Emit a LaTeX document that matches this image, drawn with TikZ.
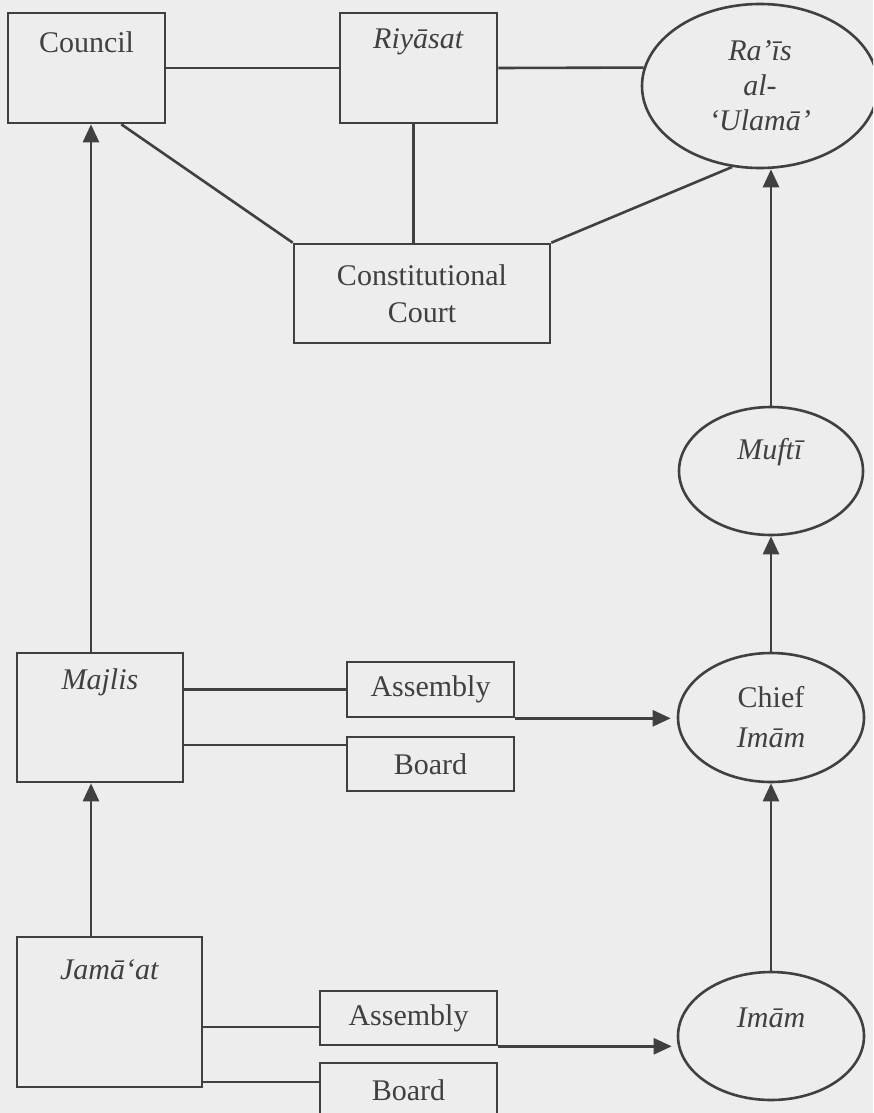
\documentclass[tikz,border=0pt]{standalone}
\usepackage{fontspec}
\setmainfont{Liberation Serif}
\usetikzlibrary{arrows.meta,shapes.geometric,calc}
\definecolor{ink}{HTML}{404040}
\definecolor{paper}{HTML}{EDEDED}
\begin{document}
\begin{tikzpicture}[x=1pt,y=-1pt,
  txt/.style={font=\fontsize{30}{36}\selectfont, text=ink},
  box/.style={draw=ink, line width=2.6pt, rectangle, inner sep=0pt, txt},
  oval/.style={draw=ink, line width=2.6pt, ellipse, inner sep=0pt, txt},
  conn/.style={draw=ink, line width=2.6pt},
  arr/.style={conn, -{Triangle[length=18pt,width=16pt]}},
]
\fill[paper] (0,0) rectangle (873,1113);
\useasboundingbox (0,0) rectangle (873,1113);
\clip (0,0) rectangle (873,1113);

% boxes
\node[box, minimum width=157pt, minimum height=110pt,
  label={[txt, yshift=26pt]center:Council}] (council) at (86.5,68) {};
\node[box, minimum width=157pt, minimum height=110pt,
  label={[txt, yshift=26pt]center:\textit{Riyāsat}}] (riyasat) at (418.5,68) {};
\node[box, minimum width=256pt, minimum height=99pt, align=center,
  font=\fontsize{30}{37}\selectfont] (cc) at (422,293.5) {Constitutional\\Court};
\node[box, minimum width=166pt, minimum height=129pt,
  label={[txt, yshift=35pt]center:\textit{Majlis}}] (majlis) at (100,717.5) {};
\node[box, minimum width=167pt, minimum height=55pt] (asm1) at (430.5,689.5) {Assembly};
\node[box, minimum width=167pt, minimum height=54pt] (brd1) at (430.5,764) {Board};
\node[box, minimum width=185pt, minimum height=150pt,
  label={[txt, yshift=42pt]center:\textit{Jamā‘at}}] (jamaat) at (109.5,1012) {};
\node[box, minimum width=177pt, minimum height=54pt] (asm2) at (408.5,1018) {Assembly};
\node[box, minimum width=177pt, minimum height=54pt] (brd2) at (408.5,1090) {Board};

% ellipses
\node[oval, minimum width=236pt, minimum height=164pt, align=center,
  font=\fontsize{30}{35}\selectfont\itshape] (rais) at (760,86) {Ra’īs\\al-\\‘Ulamā’};
\node[oval, minimum width=184pt, minimum height=128pt,
  label={[txt, yshift=19pt]center:\textit{Muftī}}] (mufti) at (771,471) {};
\node[oval, minimum width=186pt, minimum height=129pt, align=center,
  font=\fontsize{30}{40}\selectfont] (chief) at (771,717.5) {Chief\\\textit{Imām}};
\node[oval, minimum width=186pt, minimum height=128pt,
  label={[txt, yshift=18pt]center:\textit{Imām}}] (imam) at (771,1036) {};

% helper coordinates
\coordinate (cbl) at ([xshift=-45pt]council.south east);
\coordinate (mjx) at ([xshift=-9pt]majlis.north);
\coordinate (jmx) at ([xshift=-18.5pt]jamaat.north);
\coordinate (b1in) at ([yshift=19pt]brd1.west);
\coordinate (a2in) at ([yshift=-9pt]asm2.west);
\coordinate (b2in) at ([yshift=8pt]brd2.west);

% connectors, top part
\draw[conn] (council.east) -- (riyasat.west);
\draw[conn] (riyasat.east) -- (rais.171);
\draw[conn] ([xshift=-5pt]riyasat.south) -- ([xshift=-5pt]riyasat.south |- cc.north);
\draw[conn] (cbl) -- (cc.north west);
\draw[conn] (rais.251) -- (cc.north east);

% left column
\draw[arr] (mjx) -- (mjx |- council.south);
\draw[arr] (jmx) -- (jmx |- majlis.south);

% majlis links
\draw[conn] (majlis.east |- asm1.west) -- (asm1.west);
\draw[conn] (majlis.east |- b1in) -- (b1in);
\draw[arr, shorten >=6pt] (asm1.south east) -- (asm1.south east -| chief.west);

% jamaat links
\draw[conn] (a2in -| jamaat.east) -- (a2in);
\draw[conn] (b2in -| jamaat.east) -- (b2in);
\draw[arr, shorten >=5pt] (asm2.south east) -- (asm2.south east -| imam.west);

% right column
\draw[arr] (imam.north) -- (chief.south);
\draw[arr] (chief.north) -- (mufti.south);
\draw[arr] (mufti.north) -- (mufti.north |- rais.south);
\end{tikzpicture}
\end{document}
